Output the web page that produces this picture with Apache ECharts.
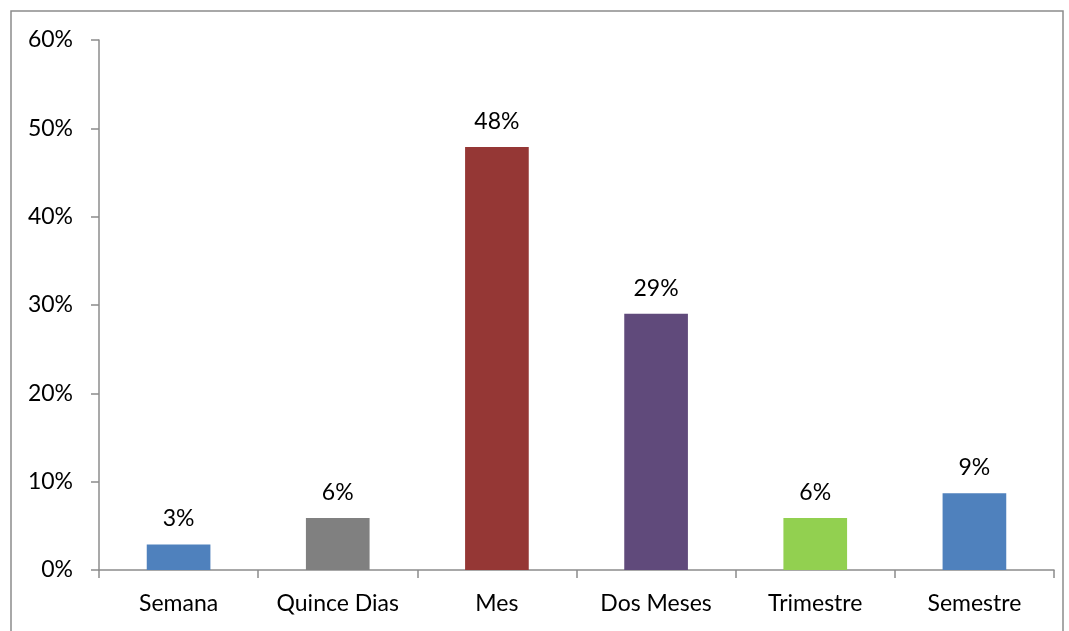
<!DOCTYPE html>
<html>
<head>
<meta charset="utf-8">
<script src="https://cdn.jsdelivr.net/npm/echarts@6/dist/echarts.min.js"></script>
<style>
html,body{margin:0;padding:0;background:#fff;}
#c{width:1069px;height:631px;}
</style>
</head>
<body>
<div id="c"></div>
<script>
const categories = ['Semana', 'Quince Dias', 'Mes', 'Dos Meses', 'Trimestre', 'Semestre'];
const values = [0.029, 0.059, 0.479, 0.290, 0.059, 0.087];
const colors = ['#4F81BD', '#808080', '#953735', '#604A7B', '#92D050', '#4F81BD'];
const yTicks = [0, 0.1, 0.2, 0.3, 0.4, 0.5, 0.6];

const font = 'Lato, "Open Sans", sans-serif';
const chart = echarts.init(document.getElementById('c'));
chart.setOption({
  animation: false,
  graphic: [{
    type: 'rect',
    shape: {x: 11, y: 11, width: 1052, height: 650},
    style: {fill: 'none', stroke: '#8c8c8c', lineWidth: 1.5},
    silent: true
  }],
  grid: {left: 99, right: 15, top: 40, bottom: 61},
  xAxis: {
    type: 'category',
    data: categories,
    boundaryGap: true,
    axisLine: {lineStyle: {color: '#8c8c8c', width: 1.5}},
    axisTick: {show: true, length: 8, alignWithLabel: false, lineStyle: {color: '#8c8c8c', width: 1.5}},
    axisLabel: {color: '#000', fontSize: 23, fontFamily: font, margin: 22}
  },
  yAxis: {
    type: 'value',
    min: yTicks[0],
    max: yTicks[yTicks.length - 1],
    interval: 0.1,
    splitLine: {show: false},
    axisLine: {show: true, lineStyle: {color: '#8c8c8c', width: 1.5}},
    axisTick: {show: true, length: 8, lineStyle: {color: '#8c8c8c', width: 1.5}},
    axisLabel: {
      color: '#000', fontSize: 23, fontFamily: font, margin: 26,
      formatter: v => Math.round(v * 100) + '%'
    }
  },
  series: [{
    type: 'bar',
    barWidth: '40%',
    data: values.map((v, i) => ({value: v, itemStyle: {color: colors[i]}})),
    label: {
      show: true, position: 'top', distance: 14,
      color: '#000', fontSize: 23, fontFamily: font,
      formatter: p => Math.round(p.value * 100) + '%'
    }
  }]
});
</script>
</body>
</html>
